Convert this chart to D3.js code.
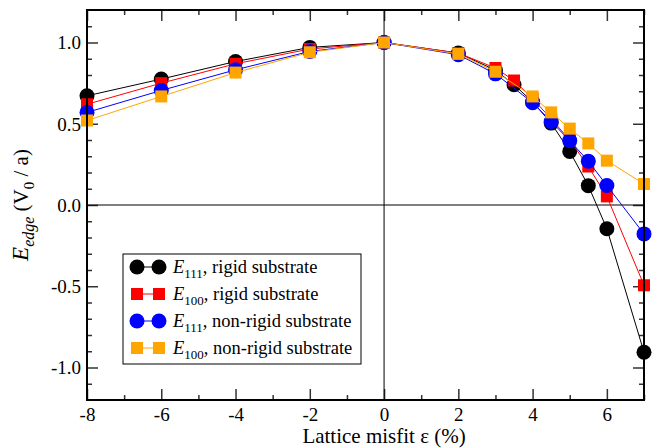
<!DOCTYPE html>
<html>
<head>
<meta charset="utf-8">
<script src="https://cdn.jsdelivr.net/npm/d3@7"></script>
<style>
  body { margin: 0; background: #fff; }
  svg { display: block; }
</style>
</head>
<body>
<svg id="chart" width="652" height="448" font-family="Liberation Serif"></svg>
<script>
var WIDTH = 652;
var HEIGHT = 448;
var MARGINS = { top: 10, right: 8, bottom: 48, left: 87 };
var CHART_WIDTH = WIDTH - MARGINS.left - MARGINS.right;
var CHART_HEIGHT = HEIGHT - MARGINS.top - MARGINS.bottom;
var SERIF = 'Liberation Serif';

// misfit values (%)
var xRigid = [-8, -6, -4, -2, 0, 2, 3, 3.5, 4, 4.5, 5, 5.5, 6, 7];
var xNonRigid = [-8, -6, -4, -2, 0, 2, 3, 4, 4.5, 5, 5.5, 6, 7];

// E_edge in V0 / a
var e111Rigid = [0.672, 0.775, 0.883, 0.97, 1.0, 0.935, 0.83, 0.74, 0.635, 0.504, 0.33, 0.119, -0.146, -0.906];
var e100Rigid = [0.62, 0.75, 0.869, 0.96, 1.0, 0.935, 0.843, 0.766, 0.655, 0.53, 0.40, 0.237, 0.053, -0.494];
var e111NonRigid = [0.57, 0.705, 0.832, 0.945, 1.0, 0.925, 0.807, 0.63, 0.514, 0.396, 0.27, 0.12, -0.178];
var e100NonRigid = [0.52, 0.668, 0.815, 0.94, 1.0, 0.93, 0.82, 0.668, 0.57, 0.47, 0.379, 0.273, 0.129];

var xTicks = [-8, -6, -4, -2, 0, 2, 4, 6];
var xMinor = [-7, -5, -3, -1, 1, 3, 5, 7];
var yTicks = [-1.0, -0.5, 0.0, 0.5, 1.0];
var yMinor = [-1.1, -0.9, -0.8, -0.7, -0.6, -0.4, -0.3, -0.2, -0.1, 0.1, 0.2, 0.3, 0.4, 0.6, 0.7, 0.8, 0.9, 1.1];

var series = [
  { label: '111', rest: ', rigid substrate', x: xRigid, y: e111Rigid, color: '#000000', shape: 'circle' },
  { label: '100', rest: ', rigid substrate', x: xRigid, y: e100Rigid, color: '#ff0000', shape: 'square' },
  { label: '111', rest: ', non-rigid substrate', x: xNonRigid, y: e111NonRigid, color: '#0000ff', shape: 'circle' },
  { label: '100', rest: ', non-rigid substrate', x: xNonRigid, y: e100NonRigid, color: '#ffa500', shape: 'square' }
];

var svg = d3.select('#chart');
var g = svg.append('g')
  .attr('transform', 'translate(' + MARGINS.left + ', ' + MARGINS.top + ')');

var xScale = d3.scaleLinear().domain([-8, 7]).range([0, CHART_WIDTH]);
var yScale = d3.scaleLinear().domain([-1.2, 1.2]).range([CHART_HEIGHT, 0]);

function styleAxis(sel) {
  sel.attr('font-family', SERIF);
  sel.select('.domain').remove();
  sel.selectAll('.tick line').attr('stroke', '#333').attr('stroke-width', 1.5);
  sel.selectAll('.tick text')
    .attr('font-family', SERIF)
    .attr('font-size', 19)
    .attr('fill', '#000');
}

// major and minor ticks, all pointing inwards
var bottom = g.append('g').attr('transform', 'translate(0,' + CHART_HEIGHT + ')')
  .call(d3.axisBottom(xScale).tickValues(xTicks).tickSizeInner(-11).tickPadding(8).tickFormat(d3.format('d')));
styleAxis(bottom);
bottom.selectAll('.tick text').text(d => String(d));
g.append('g').attr('transform', 'translate(0,' + CHART_HEIGHT + ')')
  .call(d3.axisBottom(xScale).tickValues(xMinor).tickSizeInner(-5).tickFormat('')).call(styleAxis);
g.append('g')
  .call(d3.axisTop(xScale).tickValues(xTicks).tickSizeInner(-11).tickFormat('')).call(styleAxis);
g.append('g')
  .call(d3.axisTop(xScale).tickValues(xMinor).tickSizeInner(-5).tickFormat('')).call(styleAxis);

var left = g.append('g')
  .call(d3.axisLeft(yScale).tickValues(yTicks).tickSizeInner(-11).tickPadding(6).tickFormat(d3.format('.1f')));
styleAxis(left);
left.selectAll('.tick text').text(d => d3.format('.1f')(d).replace('\u2212', '-')).attr('dy', '0.34em');
g.append('g')
  .call(d3.axisLeft(yScale).tickValues(yMinor).tickSizeInner(-5).tickFormat('')).call(styleAxis);
g.append('g').attr('transform', 'translate(' + CHART_WIDTH + ',0)')
  .call(d3.axisRight(yScale).tickValues(yTicks).tickSizeInner(-11).tickFormat('')).call(styleAxis);
g.append('g').attr('transform', 'translate(' + CHART_WIDTH + ',0)')
  .call(d3.axisRight(yScale).tickValues(yMinor).tickSizeInner(-5).tickFormat('')).call(styleAxis);

// zero lines
g.append('line')
  .attr('x1', 0).attr('x2', CHART_WIDTH)
  .attr('y1', yScale(0)).attr('y2', yScale(0))
  .attr('stroke', '#000').attr('stroke-width', 1);
g.append('line')
  .attr('x1', xScale(0)).attr('x2', xScale(0))
  .attr('y1', 0).attr('y2', CHART_HEIGHT)
  .attr('stroke', '#000').attr('stroke-width', 1);

var line = d3.line()
  .x(d => xScale(d[0]))
  .y(d => yScale(d[1]));

function drawMarker(sel, shape, color, cx, cy) {
  if (shape === 'circle') {
    sel.append('circle')
      .attr('cx', cx).attr('cy', cy).attr('r', 7.5)
      .attr('fill', color);
  } else {
    sel.append('rect')
      .attr('x', cx - 6).attr('y', cy - 6)
      .attr('width', 12).attr('height', 12)
      .attr('fill', color);
  }
}

var plot = g.append('g');
series.forEach(s => {
  var pts = s.x.map((x, i) => [x, s.y[i]]);
  var grp = plot.append('g');
  grp.append('path')
    .attr('d', line(pts))
    .attr('fill', 'none')
    .attr('stroke', s.color)
    .attr('stroke-width', 1);
  pts.forEach(p => drawMarker(grp, s.shape, s.color, xScale(p[0]), yScale(p[1])));
});

// frame
g.append('rect')
  .attr('width', CHART_WIDTH).attr('height', CHART_HEIGHT)
  .attr('fill', 'none').attr('stroke', '#000').attr('stroke-width', 2);

// legend
var legend = svg.append('g').attr('transform', 'translate(123, 254)');
legend.append('rect')
  .attr('width', 238).attr('height', 110)
  .attr('fill', '#fff').attr('stroke', '#000').attr('stroke-width', 1);

series.forEach((s, i) => {
  var y = 13 + i * 27;
  legend.append('line')
    .attr('x1', 14).attr('x2', 36).attr('y1', y).attr('y2', y)
    .attr('stroke', s.color).attr('stroke-width', 1);
  drawMarker(legend, s.shape, s.color, 14, y);
  drawMarker(legend, s.shape, s.color, 36, y);
  var t = legend.append('text')
    .attr('x', 50).attr('y', y + 6)
    .attr('font-family', SERIF)
    .attr('font-size', 18.5);
  t.append('tspan').attr('font-style', 'italic').text('E');
  t.append('tspan').attr('font-size', 13).attr('dy', 5).text(s.label);
  t.append('tspan').attr('dy', -5).text(s.rest);
});

// axis titles
svg.append('text')
  .attr('x', MARGINS.left + xScale(0))
  .attr('y', 443)
  .attr('text-anchor', 'middle')
  .attr('font-family', SERIF)
  .attr('font-size', 21)
  .text('Lattice misfit \u03b5 (%)');

var yTitle = svg.append('text')
  .attr('transform', 'translate(28,' + (MARGINS.top + CHART_HEIGHT / 2) + ') rotate(-90)')
  .attr('text-anchor', 'middle')
  .attr('font-family', SERIF)
  .attr('font-size', 21);
yTitle.append('tspan').attr('font-style', 'italic').attr('font-size', 23).text('E');
yTitle.append('tspan').attr('font-style', 'italic').attr('font-size', 16).attr('dy', 6).text('edge');
yTitle.append('tspan').attr('dy', -6).text('\u00a0(V');
yTitle.append('tspan').attr('font-size', 15).attr('dy', 6).text('0');
yTitle.append('tspan').attr('dy', -6).text('\u00a0/ a)');
</script>
</body>
</html>
